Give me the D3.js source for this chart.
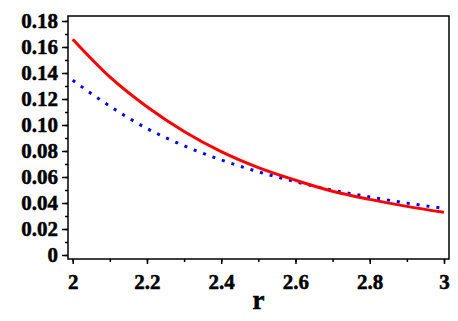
<!DOCTYPE html>
<html>
<head>
<meta charset="utf-8">
<script src="https://cdn.jsdelivr.net/npm/d3@7"></script>
<style>
  body { margin: 0; background: #fff; }
  svg { display: block; }
  .tick text { font-family: "Liberation Serif", "Times New Roman", serif; font-weight: bold; }
</style>
</head>
<body>
<div id="chart"></div>
<script>
// values
const rValues = [2.0, 2.1, 2.2, 2.3, 2.4, 2.5, 2.6, 2.7, 2.8, 2.9, 3.0];
const solidSeries = [0.166, 0.137, 0.114, 0.095, 0.0795, 0.0672, 0.0575, 0.049, 0.0428, 0.0374, 0.0328];
const dottedSeries = [0.1344, 0.1145, 0.0973, 0.084, 0.0731, 0.064, 0.0564, 0.0498, 0.0447, 0.0399, 0.0359];
const yTicks = [0, 0.02, 0.04, 0.06, 0.08, 0.10, 0.12, 0.14, 0.16, 0.18];
const xTicks = [2, 2.2, 2.4, 2.6, 2.8, 3];
const xLabel = 'r';

const width = 458, height = 321;
const frame = { left: 68, right: 449, top: 16, bottom: 259 };

const svg = d3.select('#chart')
    .append('svg')
    .attr('width', width)
    .attr('height', height);

const x = d3.scaleLinear().domain([2, 3]).range([72.7, 444]);
const y = d3.scaleLinear().domain([0, 0.18]).range([255, 21]);

// minor ticks (every 0.01 / 0.1)
const yMinor = d3.range(0, 0.185, 0.01);
const xMinor = d3.range(2, 3.05, 0.1);

svg.append('g')
    .attr('transform', `translate(${frame.left},0)`)
    .call(d3.axisLeft(y).tickValues(yMinor).tickSize(3).tickFormat(''))
    .call(g => g.select('.domain').remove())
    .call(g => g.selectAll('line').attr('stroke-width', 1.5));

svg.append('g')
    .attr('transform', `translate(0,${frame.bottom})`)
    .call(d3.axisBottom(x).tickValues(xMinor).tickSize(3).tickFormat(''))
    .call(g => g.select('.domain').remove())
    .call(g => g.selectAll('line').attr('stroke-width', 1.5));

// heavier look for the bold serif labels
const boldText = g => g.selectAll('text')
    .attr('font-size', 21)
    .attr('fill', '#000')
    .attr('stroke', '#000')
    .attr('stroke-width', 0.5);

// major ticks with labels
svg.append('g')
    .attr('transform', `translate(${frame.left},0)`)
    .call(d3.axisLeft(y).tickValues(yTicks).tickSize(6).tickPadding(4)
        .tickFormat(d => d === 0 ? '0' : d.toFixed(2)))
    .call(g => g.select('.domain').remove())
    .call(g => g.selectAll('line').attr('stroke-width', 1.5))
    .call(boldText);

svg.append('g')
    .attr('transform', `translate(0,${frame.bottom})`)
    .call(d3.axisBottom(x).tickValues(xTicks).tickSize(5).tickPadding(10)
        .tickFormat(d3.format('')))
    .call(g => g.select('.domain').remove())
    .call(g => g.selectAll('line').attr('stroke-width', 1.5))
    .call(boldText);

// frame box
svg.append('rect')
    .attr('x', frame.left)
    .attr('y', frame.top)
    .attr('width', frame.right - frame.left)
    .attr('height', frame.bottom - frame.top)
    .attr('fill', 'none')
    .attr('stroke', '#000')
    .attr('stroke-width', 1.5);

const line = d3.line()
    .x((d, i) => x(rValues[i]))
    .y(d => y(d))
    .curve(d3.curveMonotoneX);

svg.append('path')
    .datum(dottedSeries)
    .attr('d', line)
    .attr('fill', 'none')
    .attr('stroke', '#0000ff')
    .attr('stroke-width', 3)
    .attr('stroke-dasharray', '3,7');

svg.append('path')
    .datum(solidSeries)
    .attr('d', line)
    .attr('fill', 'none')
    .attr('stroke', '#ff0000')
    .attr('stroke-width', 3);

svg.append('text')
    .attr('x', (frame.left + frame.right) / 2)
    .attr('y', 309)
    .attr('text-anchor', 'middle')
    .attr('font-family', '"Liberation Serif", "Times New Roman", serif')
    .attr('font-weight', 'bold')
    .attr('font-size', 27)
    .attr('stroke', '#000')
    .attr('stroke-width', 0.5)
    .text(xLabel);
</script>
</body>
</html>
